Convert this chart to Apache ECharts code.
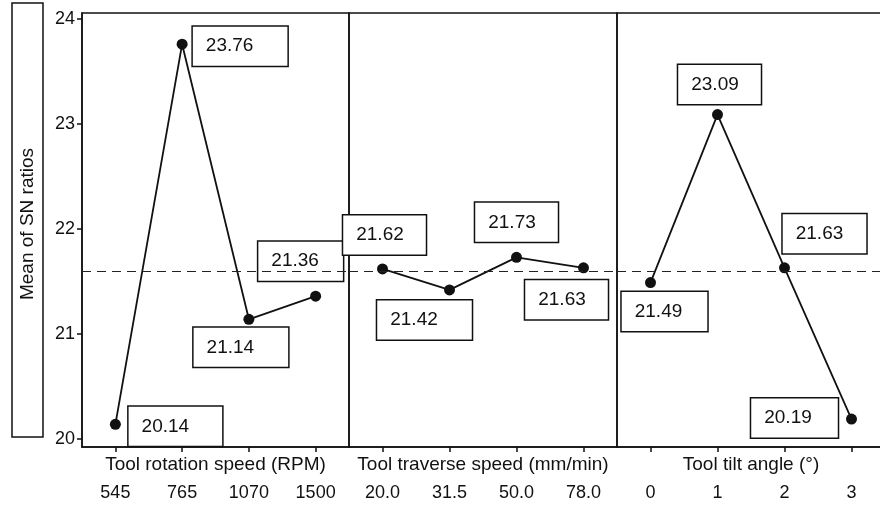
<!DOCTYPE html>
<html>
<head>
<meta charset="utf-8">
<script src="https://cdn.jsdelivr.net/npm/echarts@6/dist/echarts.min.js"></script>
<style>
  html, body { margin: 0; padding: 0; background: #fff; }
  #chart { width: 880px; height: 508px; }
</style>
</head>
<body>
<div id="chart"></div>
<script>
// factor levels and mean S/N ratios
const rotationSpeeds = ['545', '765', '1070', '1500'];
const rotationMeans = [20.14, 23.76, 21.14, 21.36];

const traverseSpeeds = ['20.0', '31.5', '50.0', '78.0'];
const traverseMeans = [21.62, 21.42, 21.73, 21.63];

const tiltAngles = ['0', '1', '2', '3'];
const tiltMeans = [21.49, 23.09, 21.63, 20.19];

const grandMean = 21.60;
const yTicks = [20, 21, 22, 23, 24];
const yTitle = 'Mean of SN ratios';

// label box placement: [dx, dy, boxWidth] relative to each point
const rotationBoxes = [[60, 2, 94], [58, 2, 95], [-8, 28, 95], [-15, -35, 85]];
const traverseBoxes = [[2, -34, 83], [-25, 30, 95], [0, -35, 83], [-17, 32, 83]];
const tiltBoxes = [[14, 29, 86], [2, -30, 83], [40, -34, 84], [-57, -1, 87]];

const FONT = 'Liberation Sans, Arial, sans-serif';
const INK = '#111';

const chart = echarts.init(document.getElementById('chart'));

const gridLefts = [82, 349, 617];
const gridWidths = [267, 268, 268];

function makeGrid(i) {
    return {
        left: gridLefts[i],
        width: gridWidths[i],
        top: 13,
        bottom: 61,
        outerBoundsMode: 'none',
        containLabel: false,
        show: true,
        borderColor: INK,
        borderWidth: 1.5,
        backgroundColor: 'transparent'
    };
}

function makeXAxis(i, cats, name) {
    return {
        type: 'category',
        gridIndex: i,
        data: cats,
        boundaryGap: true,
        name: name,
        nameLocation: 'middle',
        nameGap: 8,
        nameMoveOverlap: false,
        nameTextStyle: { color: INK, fontSize: 19, fontFamily: FONT, verticalAlign: 'top' },
        axisLine: { show: true, lineStyle: { color: INK, width: 1.5 } },
        axisTick: { show: true, alignWithLabel: true, length: 5, lineStyle: { color: INK, width: 1.5 } },
        axisLabel: { color: INK, fontSize: 18, fontFamily: FONT, margin: 37 },
        splitLine: { show: false }
    };
}

function makeYAxis(i) {
    return {
        type: 'value',
        gridIndex: i,
        min: 19.924,
        max: 24.057,
        axisLine: { show: i === 0, lineStyle: { color: INK, width: 1.5 } },
        axisTick: { show: i === 0, length: 5, customValues: yTicks, lineStyle: { color: INK, width: 1.5 } },
        axisLabel: { show: i === 0, customValues: yTicks, color: INK, fontSize: 18, fontFamily: FONT, margin: 7 },
        splitLine: { show: false }
    };
}

function makeSeries(i, values, boxes) {
    return {
        type: 'line',
        xAxisIndex: i,
        yAxisIndex: i,
        symbol: 'circle',
        symbolSize: 11,
        itemStyle: { color: INK },
        lineStyle: { color: INK, width: 1.8 },
        z: 3,
        data: values.map((v, j) => ({
            value: v,
            label: {
                offset: [boxes[j][0], boxes[j][1]],
                padding: [15, boxes[j][2] - 13 - 48, 5, 13]
            }
        })),
        label: {
            show: true,
            position: 'inside',
            formatter: p => p.value.toFixed(2),
            color: INK,
            fontSize: 19,
            lineHeight: 19,
            fontFamily: FONT,
            backgroundColor: '#fff',
            borderColor: INK,
            borderWidth: 1.5
        },
        markLine: {
            silent: true,
            symbol: 'none',
            label: { show: false },
            lineStyle: { color: '#222', width: 1.2, type: [9, 6] },
            data: [{ yAxis: grandMean }]
        }
    };
}

const option = {
    animation: false,
    backgroundColor: '#fff',
    grid: [makeGrid(0), makeGrid(1), makeGrid(2)],
    xAxis: [
        makeXAxis(0, rotationSpeeds, 'Tool rotation speed (RPM)'),
        makeXAxis(1, traverseSpeeds, 'Tool traverse speed (mm/min)'),
        makeXAxis(2, tiltAngles, 'Tool tilt angle (°)')
    ],
    yAxis: [makeYAxis(0), makeYAxis(1), makeYAxis(2)],
    // boxed y title, as in the original figure
    graphic: [{
        type: 'group',
        children: [{
            type: 'rect',
            shape: { x: 12, y: 3, width: 31, height: 434 },
            style: { fill: '#fff', stroke: INK, lineWidth: 1.5 }
        }, {
            type: 'text',
            x: 28,
            y: 224,
            rotation: Math.PI / 2,
            style: {
                text: yTitle,
                fill: INK,
                font: '19px ' + FONT,
                align: 'center',
                verticalAlign: 'middle'
            }
        }]
    }],
    series: [
        makeSeries(0, rotationMeans, rotationBoxes),
        makeSeries(1, traverseMeans, traverseBoxes),
        makeSeries(2, tiltMeans, tiltBoxes)
    ]
};

chart.setOption(option);
</script>
</body>
</html>
